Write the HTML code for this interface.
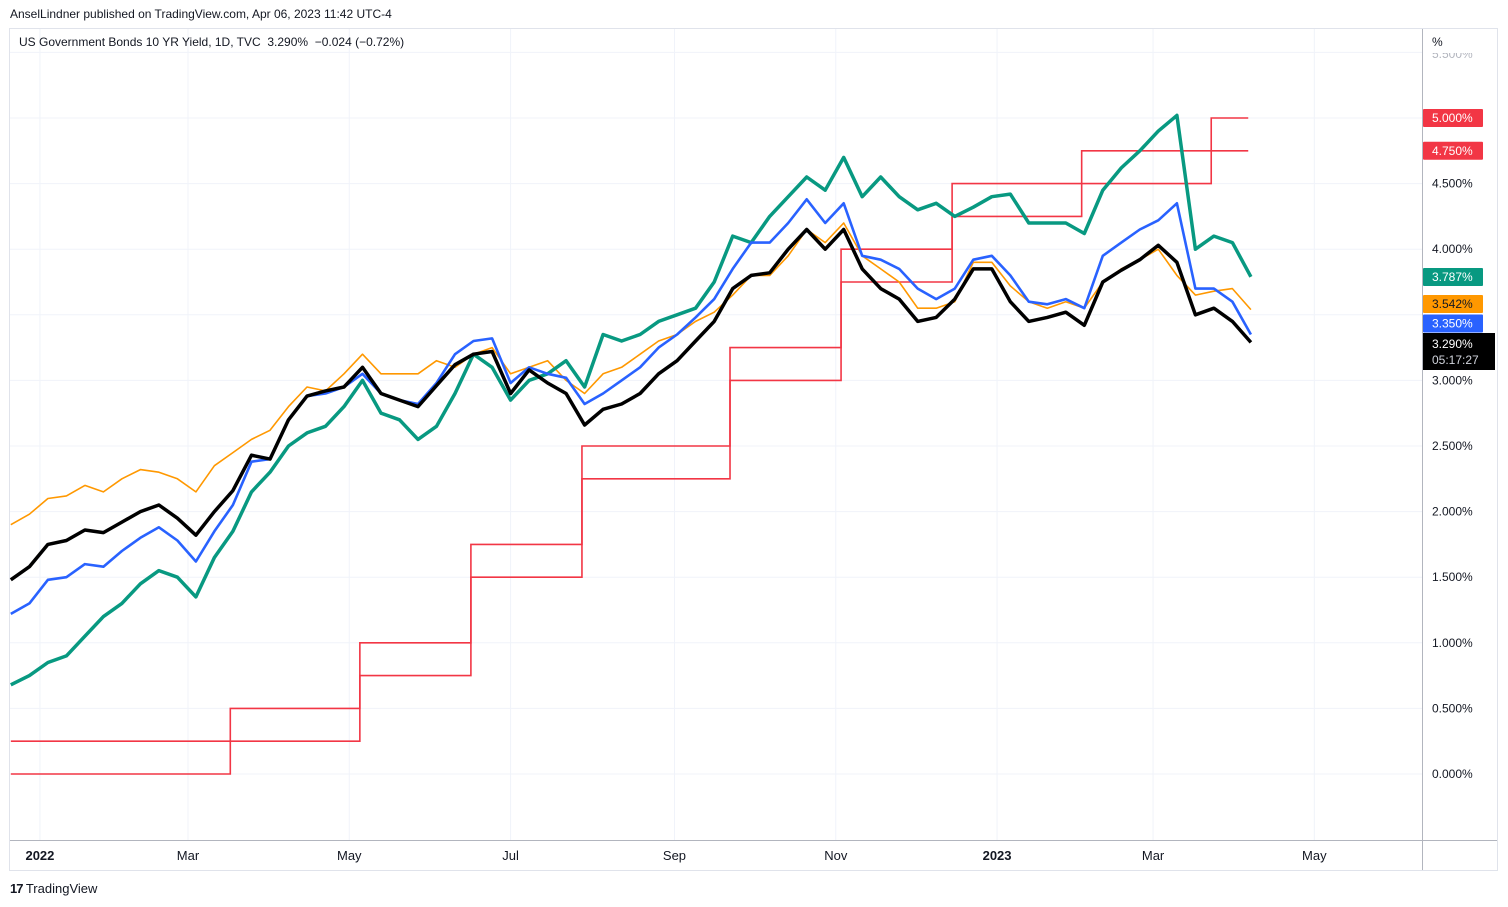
<!DOCTYPE html>
<html><head><meta charset="utf-8"><style>
body{margin:0;width:1508px;height:907px;background:#fff;font-family:"Liberation Sans","DejaVu Sans",sans-serif;overflow:hidden;position:relative}
.t{position:absolute;font-size:12px;color:#131722;white-space:nowrap}
</style></head><body>
<div class="t" style="left:10px;top:7px">AnselLindner published on TradingView.com, Apr 06, 2023 11:42 UTC-4</div>
<svg id="chart" width="1508" height="907" style="position:absolute;left:0;top:0" font-family="Liberation Sans, DejaVu Sans, sans-serif"></svg>
<script>
const series10y=[1.48,1.58,1.75,1.78,1.86,1.84,1.92,2.00,2.05,1.95,1.82,2.00,2.16,2.43,2.40,2.70,2.88,2.92,2.95,3.10,2.90,2.85,2.80,2.96,3.12,3.20,3.22,2.90,3.08,2.98,2.90,2.66,2.78,2.82,2.90,3.05,3.15,3.30,3.45,3.70,3.80,3.82,4.00,4.15,4.00,4.15,3.85,3.70,3.62,3.45,3.48,3.62,3.85,3.85,3.60,3.45,3.48,3.52,3.42,3.75,3.84,3.92,4.03,3.90,3.50,3.55,3.45,3.29];
const seriesBlue=[1.22,1.30,1.48,1.50,1.60,1.58,1.70,1.80,1.88,1.78,1.62,1.85,2.05,2.38,2.40,2.70,2.88,2.90,2.95,3.05,2.90,2.85,2.82,2.98,3.20,3.30,3.32,2.98,3.10,3.05,3.02,2.82,2.90,3.00,3.10,3.25,3.35,3.48,3.62,3.85,4.05,4.05,4.20,4.38,4.20,4.35,3.95,3.92,3.85,3.70,3.62,3.70,3.92,3.95,3.80,3.60,3.58,3.62,3.55,3.95,4.05,4.15,4.22,4.35,3.70,3.70,3.60,3.35];
const seriesOrange=[1.90,1.98,2.10,2.12,2.20,2.15,2.25,2.32,2.30,2.25,2.15,2.35,2.45,2.55,2.62,2.80,2.95,2.92,3.05,3.20,3.05,3.05,3.05,3.15,3.10,3.20,3.25,3.05,3.10,3.15,3.00,2.90,3.05,3.10,3.20,3.30,3.35,3.45,3.52,3.65,3.80,3.80,3.95,4.15,4.05,4.20,3.95,3.85,3.75,3.55,3.55,3.60,3.90,3.90,3.72,3.60,3.55,3.60,3.55,3.75,3.85,3.92,4.00,3.80,3.65,3.68,3.70,3.54];
const seriesGreen=[0.68,0.75,0.85,0.90,1.05,1.20,1.30,1.45,1.55,1.50,1.35,1.65,1.85,2.15,2.30,2.50,2.60,2.65,2.80,3.00,2.75,2.70,2.55,2.65,2.90,3.20,3.10,2.85,3.00,3.05,3.15,2.95,3.35,3.30,3.35,3.45,3.50,3.55,3.75,4.10,4.05,4.25,4.40,4.55,4.45,4.70,4.40,4.55,4.40,4.30,4.35,4.25,4.32,4.40,4.42,4.20,4.20,4.20,4.12,4.45,4.62,4.75,4.90,5.02,4.00,4.10,4.05,3.79];
const stepDays=[-8,75,124,166,208,264,306,348,397,446,460];
const lowerRate=[0,0.25,0.75,1.50,2.25,3.00,3.75,4.25,4.50,4.75];
const upperRate=[0.25,0.50,1.00,1.75,2.50,3.25,4.00,4.50,4.75,5.00];
const yTicks=[0,0.5,1,1.5,2,2.5,3,3.5,4,4.5,5,5.5];
const yTickLabels=["0.000%","0.500%","1.000%","1.500%","2.000%","2.500%","3.000%","","4.000%","4.500%","",""];
const xTickDays=[3,59,120,181,243,304,365,424,485];
const xTickLabels=["2022","Mar","May","Jul","Sep","Nov","2023","Mar","May"];
const startDay=-8, stepDaysPerPoint=7;

const NS="http://www.w3.org/2000/svg";
const svg=document.getElementById('chart');
const X=d=>32+2.644*d;
const Y=v=>774-131.2*v;
function mk(tag,attrs,parent){const e=document.createElementNS(NS,tag);for(const k in attrs)e.setAttribute(k,attrs[k]);(parent||svg).appendChild(e);return e;}

let f=mk('rect',{x:9.5,y:28.5,width:1488,height:842,fill:'none',stroke:'#e0e3eb'});


yTicks.forEach((v,i)=>{
  let g=mk('line',{x1:10,x2:1422,y1:Y(v),y2:Y(v),stroke:'#f0f3fa'});
  
  
  if(yTickLabels[i]){
    let t=mk('text',{x:1432,y:Y(v)+4,'font-size':12,fill:'#131722'});t.textContent=yTickLabels[i];
    
    
  }
});
xTickDays.forEach((d,i)=>{
  let g=mk('line',{x1:X(d),x2:X(d),y1:29,y2:840,stroke:'#f0f3fa'});
  
  
  let bold=/^\d{4}$/.test(xTickLabels[i]);
  let t=mk('text',{x:X(d),y:860,'font-size':13,'text-anchor':'middle',fill:'#131722','font-weight':bold?'bold':'normal'});t.textContent=xTickLabels[i];
  
  
});
let ax=mk('line',{x1:1422.5,x2:1422.5,y1:29,y2:870,stroke:'#b2b5be'});


let bx=mk('line',{x1:10,x2:1497,y1:840.5,y2:840.5,stroke:'#b2b5be'});



function stepPath(rates){let p='';for(let i=0;i<rates.length;i++){const x0=X(stepDays[i]),x1=X(stepDays[i+1]),y=Y(rates[i]);p+=(i?'L':'M')+x0+','+y+'L'+x1+','+y;}return p;}
let lo=mk('path',{d:stepPath(lowerRate),fill:'none',stroke:'#f23645','stroke-width':1.6});


let up=mk('path',{d:stepPath(upperRate),fill:'none',stroke:'#f23645','stroke-width':1.6});



function line(vals,color,w,name){
  const d=vals.map((v,i)=>(i?'L':'M')+X(startDay+stepDaysPerPoint*i).toFixed(1)+','+Y(v).toFixed(1)).join('');
  const e=mk('path',{d:d,fill:'none',stroke:color,'stroke-width':w,'stroke-linejoin':'round'});
  
  
}
line(seriesOrange,'#ff9800',1.6,'orange-yield-line');
line(seriesGreen,'#089981',3.5,'green-yield-line');
line(seriesBlue,'#2962ff',2.6,'blue-yield-line');
line(series10y,'#000000',3.5,'us10y-line');

function tag(v,color,txtColor,name,yc){
  const y=yc;
  let r=mk('rect',{x:1423,y:y-9,width:60,height:18,fill:color,rx:1});
  
  
  let t=mk('text',{x:1432,y:y+4,'font-size':12,fill:txtColor});t.textContent=v.toFixed(3)+'%';
  
  
}
const uLast=upperRate[upperRate.length-1], lLast=lowerRate[lowerRate.length-1];
tag(uLast,'#f23645','#fff','upper-rate-tag',Y(uLast));
tag(lLast,'#f23645','#fff','lower-rate-tag',Y(lLast));
tag(3.787,'#089981','#fff','green-price-tag',277);
tag(3.542,'#ff9800','#131722','orange-price-tag',304);
tag(3.350,'#2962ff','#fff','blue-price-tag',323.5);
let br=mk('rect',{x:1423,y:333,width:72,height:37,fill:'#000'});


let bt=mk('text',{x:1432,y:348,'font-size':12,fill:'#fff'});bt.textContent='3.290%';


let ct=mk('text',{x:1432,y:364,'font-size':12,fill:'#d1d4dc'});ct.textContent='05:17:27';


let pc=mk('text',{x:1432,y:46,'font-size':12,fill:'#131722'});pc.textContent='%';


let t55=mk('text',{x:1432,y:58,'font-size':12,fill:'#b2b5be'});t55.textContent='5.500%';


let cover=mk('rect',{x:1424,y:48,width:70,height:5,fill:'#fff'});


</script>
<div class="t" style="left:19px;top:35px">US Government Bonds 10 YR Yield, 1D, TVC&nbsp; 3.290% &nbsp;−0.024 (−0.72%)</div>
<div class="t" style="left:10px;top:881px;font-size:13px;color:#131722"><span style="font-weight:bold;letter-spacing:-1px">17</span> TradingView</div>
</body></html>
